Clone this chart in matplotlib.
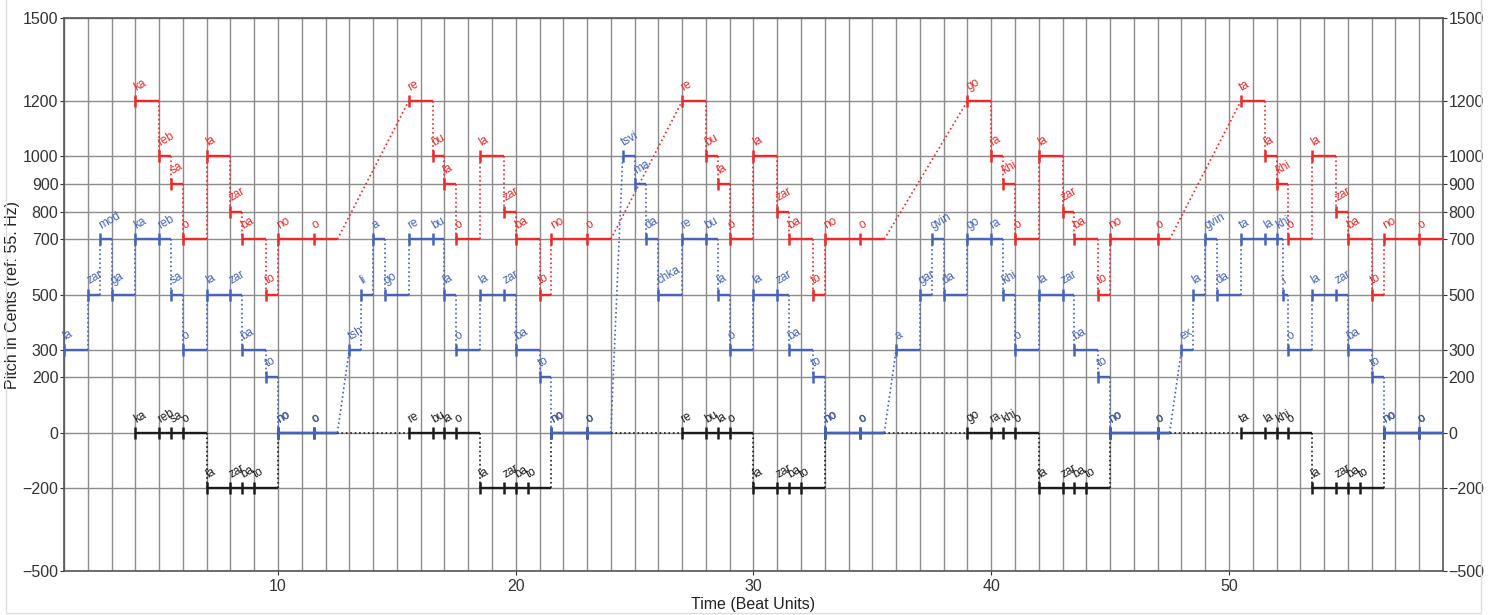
import matplotlib.pyplot as plt
from matplotlib.patches import Rectangle
from matplotlib.ticker import MultipleLocator

plt.rcParams['font.family'] = ['Liberation Sans', 'DejaVu Sans']

# upper voice (red)
red_syl = ["ka", "reb", "sa", "o", "la", "zar", "ba", "to", "no", "o",
           "re", "bu", "la", "o", "la", "zar", "ba", "to", "no", "o",
           "re", "bu", "la", "o", "la", "zar", "ba", "to", "no", "o",
           "go", "ra", "khi", "o", "la", "zar", "ba", "to", "no", "o",
           "ta", "la", "khi", "o", "la", "zar", "ba", "to", "no", "o"]
red_t0 = [4, 5, 5.5, 6, 7, 8, 8.5, 9.5, 10, 11.5,
          15.5, 16.5, 17, 17.5, 18.5, 19.5, 20, 21, 21.5, 23,
          27, 28, 28.5, 29, 30, 31, 31.5, 32.5, 33, 34.5,
          39, 40, 40.5, 41, 42, 43, 43.5, 44.5, 45, 47,
          50.5, 51.5, 52, 52.5, 53.5, 54.5, 55, 56, 56.5, 58]
red_t1 = [5, 5.5, 6, 7, 8, 8.5, 9.5, 10, 11.5, 12.5,
          16.5, 17, 17.5, 18.5, 19.5, 20, 21, 21.5, 23, 24,
          28, 28.5, 29, 30, 31, 31.5, 32.5, 33, 34.5, 35.5,
          40, 40.5, 41, 42, 43, 43.5, 44.5, 45, 47, 47.5,
          51.5, 52, 52.5, 53.5, 54.5, 55, 56, 56.5, 58, 59]
red_cents = [1200, 1000, 900, 700, 1000, 800, 700, 500, 700, 700,
             1200, 1000, 900, 700, 1000, 800, 700, 500, 700, 700,
             1200, 1000, 900, 700, 1000, 800, 700, 500, 700, 700,
             1200, 1000, 900, 700, 1000, 800, 700, 500, 700, 700,
             1200, 1000, 900, 700, 1000, 800, 700, 500, 700, 700]

# middle voice (blue)
blue_syl = ["la", "zar", "mod", "ga", "ka", "reb", "sa", "o", "la", "zar", "ba", "to", "no", "o",
            "tsh", "li", "a", "go", "re", "bu", "la", "o", "la", "zar", "ba", "to", "no", "o",
            "tsvi", "ma", "da", "chka", "re", "bu", "la", "o", "la", "zar", "ba", "to", "no", "o",
            "a", "gar", "gvin", "da", "go", "ra", "khi", "o", "la", "zar", "ba", "to", "no", "o",
            "ex", "la", "gvin", "da", "ta", "la", "khi", "i", "o", "la", "zar", "ba", "to", "no", "o"]
blue_t0 = [1, 2, 2.5, 3, 4, 5, 5.5, 6, 7, 8, 8.5, 9.5, 10, 11.5,
           13, 13.5, 14, 14.5, 15.5, 16.5, 17, 17.5, 18.5, 19.5, 20, 21, 21.5, 23,
           24.5, 25, 25.5, 26, 27, 28, 28.5, 29, 30, 31, 31.5, 32.5, 33, 34.5,
           36, 37, 37.5, 38, 39, 40, 40.5, 41, 42, 43, 43.5, 44.5, 45, 47,
           48, 48.5, 49, 49.5, 50.5, 51.5, 52, 52.25, 52.5, 53.5, 54.5, 55, 56, 56.5, 58]
blue_t1 = [2, 2.5, 3, 4, 5, 5.5, 6, 7, 8, 8.5, 9.5, 10, 11.5, 12.5,
           13.5, 14, 14.5, 15.5, 16.5, 17, 17.5, 18.5, 19.5, 20, 21, 21.5, 23, 24,
           25, 25.5, 26, 27, 28, 28.5, 29, 30, 31, 31.5, 32.5, 33, 34.5, 35.5,
           37, 37.5, 38, 39, 40, 40.5, 41, 42, 43, 43.5, 44.5, 45, 47, 47.5,
           48.5, 49, 49.5, 50.5, 51.5, 52, 52.25, 52.5, 53.5, 54.5, 55, 56, 56.5, 58, 59]
blue_cents = [300, 500, 700, 500, 700, 700, 500, 300, 500, 500, 300, 200, 0, 0,
              300, 500, 700, 500, 700, 700, 500, 300, 500, 500, 300, 200, 0, 0,
              1000, 900, 700, 500, 700, 700, 500, 300, 500, 500, 300, 200, 0, 0,
              300, 500, 700, 500, 700, 700, 500, 300, 500, 500, 300, 200, 0, 0,
              300, 500, 700, 500, 700, 700, 700, 500, 300, 500, 500, 300, 200, 0, 0]

# bass (black)
black_syl = ["ka", "reb", "sa", "o", "la", "zar", "ba", "to", "no", "o",
             "re", "bu", "la", "o", "la", "zar", "ba", "to", "no", "o",
             "re", "bu", "la", "o", "la", "zar", "ba", "to", "no", "o",
             "go", "ra", "khi", "o", "la", "zar", "ba", "to", "no", "o",
             "ta", "la", "khi", "o", "la", "zar", "ba", "to", "no", "o"]
black_t0 = [4, 5, 5.5, 6, 7, 8, 8.5, 9, 10, 11.5,
            15.5, 16.5, 17, 17.5, 18.5, 19.5, 20, 20.5, 21.5, 23,
            27, 28, 28.5, 29, 30, 31, 31.5, 32, 33, 34.5,
            39, 40, 40.5, 41, 42, 43, 43.5, 44, 45, 47,
            50.5, 51.5, 52, 52.5, 53.5, 54.5, 55, 55.5, 56.5, 58]
black_t1 = [5, 5.5, 6, 7, 8, 8.5, 9, 10, 11.5, 12.5,
            16.5, 17, 17.5, 18.5, 19.5, 20, 20.5, 21.5, 23, 24,
            28, 28.5, 29, 30, 31, 31.5, 32, 33, 34.5, 35.5,
            40, 40.5, 41, 42, 43, 43.5, 44, 45, 47, 47.5,
            51.5, 52, 52.5, 53.5, 54.5, 55, 55.5, 56.5, 58, 59]
black_cents = [0, 0, 0, 0, -200, -200, -200, -200, 0, 0] * 5

y_ticks = [-500, -200, 0, 200, 300, 500, 700, 800, 900, 1000, 1200, 1500]
x_ticks = [10, 20, 30, 40, 50]

RED = "#f02828"
BLUE = "#4563bd"
BLACK = "#1c1c1c"


def draw_voice(ax, syl, t0, t1, cents, color, z):
    for i in range(len(syl)):
        ax.plot([t0[i], t1[i]], [cents[i], cents[i]], color=color, lw=1.7,
                solid_capstyle="butt", zorder=z)
        ax.plot(t0[i], cents[i], marker="|", ms=9, mew=1.8, color=color, zorder=z)
        ax.annotate(syl[i], (t0[i], cents[i]), xytext=(2, 5.5), textcoords="offset points",
                    rotation=30, rotation_mode="anchor", ha="left", va="bottom",
                    fontsize=8.5, color=color, zorder=z, annotation_clip=True)
        if i + 1 < len(syl):
            ax.plot([t1[i], t0[i + 1]], [cents[i], cents[i + 1]], color=color,
                    lw=1.2, ls=":", zorder=z - 0.5)


fig = plt.figure(figsize=(14.98, 6.15), dpi=100)
ax = fig.add_axes([0.0427, 0.0715, 0.9206, 0.8992])

draw_voice(ax, black_syl, black_t0, black_t1, black_cents, BLACK, 3)
draw_voice(ax, blue_syl, blue_t0, blue_t1, blue_cents, BLUE, 4)
draw_voice(ax, red_syl, red_t0, red_t1, red_cents, RED, 5)

ax.set_xlim(1, 59)
ax.set_ylim(-500, 1500)
ax.set_yticks(y_ticks)
ax.set_xticks(x_ticks)
ax.xaxis.set_minor_locator(MultipleLocator(1))
ax.grid(True, axis="x", which="both", color="#8c8c8c", lw=1.0)
ax.grid(True, axis="y", which="major", color="#8c8c8c", lw=1.0)
ax.set_axisbelow(True)
ax.tick_params(axis="y", labelright=True, right=True, length=3, labelsize=11.5,
               colors="#333333", pad=1)
ax.tick_params(axis="x", which="major", length=3, labelsize=11.5, colors="#333333", pad=3)
ax.tick_params(axis="x", which="minor", length=0)
for s in ax.spines.values():
    s.set_color("#555555")
    s.set_linewidth(1.2)

ax.set_ylabel("Pitch in Cents (ref: 55. Hz)", fontsize=11.5, color="#222222", labelpad=2)
ax.set_xlabel("Time (Beat Units)", fontsize=11.5, color="#222222", labelpad=2)

fig.patches.append(Rectangle((6 / 1498, 2 / 615), 1475 / 1498, 1.2, transform=fig.transFigure,
                             fill=False, ec="#dddddd", lw=1.0))

fig.savefig("out.png", dpi=100)
